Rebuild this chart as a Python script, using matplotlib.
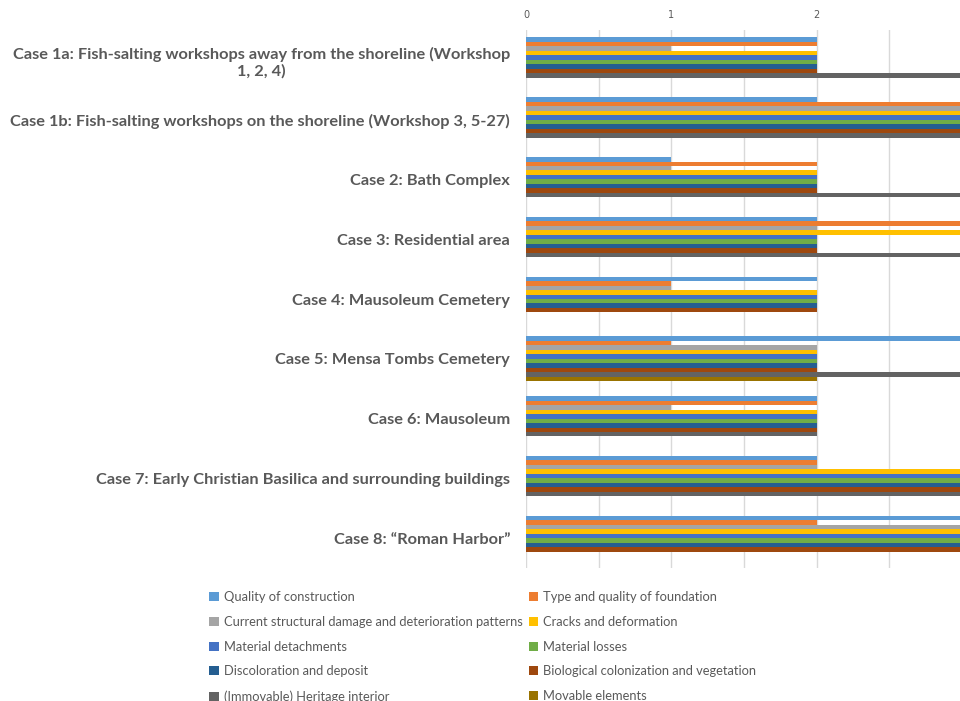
import numpy as np
import matplotlib
matplotlib.use("Agg")
import matplotlib.pyplot as plt

cases = [
    "Case 1a: Fish-salting workshops away from the shoreline (Workshop\n1, 2, 4)",
    "Case 1b: Fish-salting workshops on the shoreline (Workshop 3, 5-27)",
    "Case 2: Bath Complex",
    "Case 3: Residential area",
    "Case 4: Mausoleum Cemetery",
    "Case 5: Mensa Tombs Cemetery",
    "Case 6: Mausoleum",
    "Case 7: Early Christian Basilica and surrounding buildings",
    "Case 8: \u201cRoman Harbor\u201d",
]

series_names = [
    "Quality of construction",
    "Type and quality of foundation",
    "Current structural damage and deterioration patterns",
    "Cracks and deformation",
    "Material detachments",
    "Material losses",
    "Discoloration and deposit",
    "Biological colonization and vegetation",
    "(Immovable) Heritage interior",
    "Movable elements",
]

quality = [2, 2, 1, 2, 2, 3, 2, 2, 3]
foundation = [2, 3, 2, 3, 1, 1, 2, 2, 2]
structural = [1, 3, 1, 2, 1, 2, 1, 2, 3]
cracks = [2, 3, 2, 3, 2, 2, 2, 3, 3]
detachments = [2, 3, 2, 2, 2, 2, 2, 3, 3]
losses = [2, 3, 2, 2, 2, 2, 2, 3, 3]
discoloration = [2, 3, 2, 2, 2, 2, 2, 3, 3]
biological = [2, 3, 2, 2, 2, 2, 2, 3, 3]
interior = [3, 3, 3, 3, 0, 3, 2, 3, 0]
movable = [0, 0, 0, 0, 0, 2, 0, 0, 0]

series_values = [quality, foundation, structural, cracks, detachments,
                 losses, discoloration, biological, interior, movable]

colors = ["#5B9BD5", "#ED7D31", "#A5A5A5", "#FFC000", "#4472C4",
          "#70AD47", "#255E91", "#9E480E", "#636363", "#997300"]

text_color = "#595959"
W, H = 960, 701

fig = plt.figure(figsize=(W / 100, H / 100), dpi=100)
ax = fig.add_axes([526 / W, 1 - 568 / H, 436 / W, (568 - 30) / H])

y = np.arange(len(cases))
bar_h = 0.075
n = len(series_values)
bars = []
for i, (vals, col) in enumerate(zip(series_values, colors)):
    b = ax.barh(y + (i - (n - 1) / 2) * bar_h, vals, height=bar_h,
                color=col, label=series_names[i], zorder=2)
    bars.append(b)

ax.set_xlim(0, 3)
ax.set_ylim(len(cases) - 0.5, -0.5)
ax.xaxis.tick_top()
ax.set_xticks([0, 1, 2, 3])
ax.set_xticks(np.arange(0, 3.01, 0.5), minor=True)
ax.tick_params(axis="x", which="both", length=0, labelsize=7,
               labelcolor=text_color, pad=7)
ax.grid(axis="x", which="both", color="#D9D9D9", linewidth=1, zorder=0)
ax.set_axisbelow(True)

ax.set_yticks(y)
ax.set_yticklabels(cases)
ax.tick_params(axis="y", length=0, pad=11.5, labelcolor=text_color)
for lbl in ax.get_yticklabels():
    lbl.set_fontfamily("Lato")
    lbl.set_fontweight("bold")
    lbl.set_fontsize(11.8)
    lbl.set_multialignment("center")

for s in ax.spines.values():
    s.set_visible(False)

# legend is row-major in the original: reorder for matplotlib's column fill
order = [0, 2, 4, 6, 8, 1, 3, 5, 7, 9]
handles = [bars[k] for k in order]
labels = [series_names[k] for k in order]
leg = fig.legend(handles, labels, ncol=2, loc="upper left",
                 bbox_to_anchor=(203 / W, 1 - 585 / H), frameon=False,
                 prop={"family": "Lato", "size": 9.3},
                 handlelength=0.7, handleheight=0.7, handletextpad=0.4,
                 columnspacing=0.5, labelspacing=0.98, borderpad=0)
for t in leg.get_texts():
    t.set_color(text_color)

fig.savefig("out.png", dpi=100)
